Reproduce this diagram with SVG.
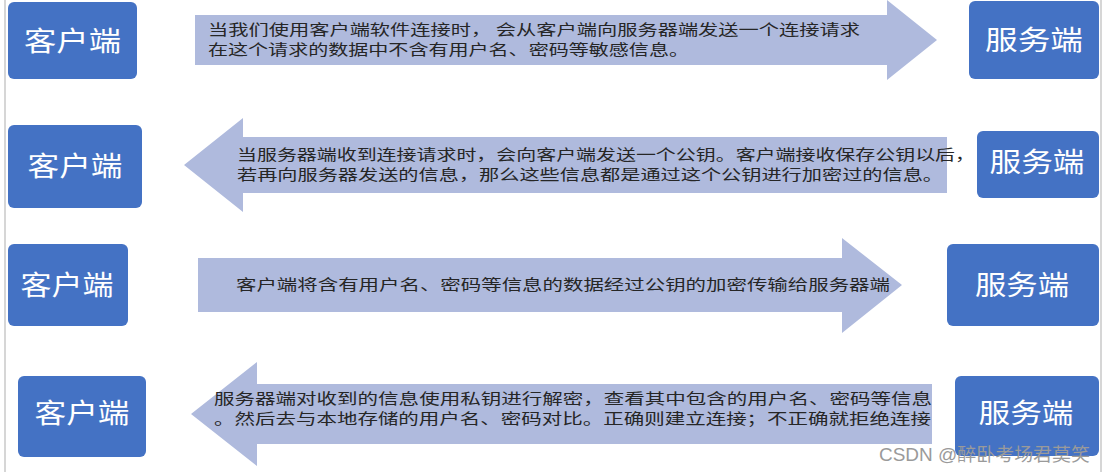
<svg xmlns="http://www.w3.org/2000/svg" width="1105" height="472" viewBox="0 0 1105 472">
<defs>
<style>
.box{fill:#4472C4;}
.lbl{fill:#ffffff;font-family:"Noto Sans CJK SC","Noto Sans",sans-serif;font-size:27px;text-anchor:middle;}
.arr{fill:#AFBADD;}
.msg{fill:#262626;font-family:"Noto Sans CJK SC","Noto Sans",sans-serif;font-size:15px;}
.wm{fill:#9a9a9a;font-family:"Liberation Sans","Noto Sans CJK SC",sans-serif;font-size:18px;}
.edge{stroke:#d6d6d6;stroke-width:2;}
</style>
</defs>
<rect x="0" y="0" width="1105" height="472" fill="#ffffff"/>
<line class="edge" x1="5" y1="0" x2="5" y2="472"/>
<line class="edge" x1="1101" y1="0" x2="1101" y2="472"/>

<g id="connectors">
  <g id="arrow1">
    <polygon class="arr" points="195,15 887,15 887,0 937,40 887,80 887,65 195,65"/>
    <text class="msg" x="208" y="35" textLength="652" lengthAdjust="spacingAndGlyphs">当我们使用客户端软件连接时， 会从客户端向服务器端发送一个连接请求</text>
    <text class="msg" x="208" y="55" textLength="481" lengthAdjust="spacingAndGlyphs">在这个请求的数据中不含有用户名、密码等敏感信息。</text>
  </g>
  <g id="arrow2">
    <polygon class="arr" points="947,137 243,137 243,118 184,165 243,212 243,193 947,193"/>
    <text class="msg" x="237" y="160" textLength="738" lengthAdjust="spacingAndGlyphs">当服务器端收到连接请求时，会向客户端发送一个公钥。客户端接收保存公钥以后，</text>
    <text class="msg" x="237" y="180" textLength="706" lengthAdjust="spacingAndGlyphs">若再向服务器发送的信息，那么这些信息都是通过这个公钥进行加密过的信息。</text>
  </g>
  <g id="arrow3">
    <polygon class="arr" points="198,258 842,258 842,238 902,285 842,333 842,312 198,312"/>
    <text class="msg" x="236" y="290" textLength="654" lengthAdjust="spacingAndGlyphs">客户端将含有用户名、密码等信息的数据经过公钥的加密传输给服务器端</text>
  </g>
  <g id="arrow4">
    <polygon class="arr" points="932,384 257,384 257,362 191,414 257,466 257,444 932,444"/>
    <text class="msg" x="214" y="404" textLength="718" lengthAdjust="spacingAndGlyphs">服务器端对收到的信息使用私钥进行解密，查看其中包含的用户名、密码等信息</text>
    <text class="msg" x="214" y="424" textLength="717" lengthAdjust="spacingAndGlyphs">。然后去与本地存储的用户名、密码对比。正确则建立连接；不正确就拒绝连接</text>
  </g>
</g>

<g id="client1"><rect class="box" x="8" y="2" width="129" height="77" rx="6"/><text class="lbl" x="72.5" y="51" textLength="97" lengthAdjust="spacingAndGlyphs">客户端</text></g>
<g id="server1"><rect class="box" x="969" y="1" width="130" height="78" rx="6"/><text class="lbl" x="1034" y="50" textLength="98" lengthAdjust="spacingAndGlyphs">服务端</text></g>

<g id="client2"><rect class="box" x="8" y="125" width="134" height="83" rx="6"/><text class="lbl" x="75" y="176" textLength="95" lengthAdjust="spacingAndGlyphs">客户端</text></g>
<g id="server2"><rect class="box" x="977" y="131" width="122" height="67" rx="6"/><text class="lbl" x="1037" y="172" textLength="95" lengthAdjust="spacingAndGlyphs">服务端</text></g>

<g id="client3"><rect class="box" x="8" y="244" width="120" height="82" rx="6"/><text class="lbl" x="67" y="295" textLength="93" lengthAdjust="spacingAndGlyphs">客户端</text></g>
<g id="server3"><rect class="box" x="947" y="244" width="152" height="82" rx="6"/><text class="lbl" x="1022" y="295" textLength="94" lengthAdjust="spacingAndGlyphs">服务端</text></g>

<g id="client4"><rect class="box" x="18" y="376" width="128" height="81" rx="6"/><text class="lbl" x="82" y="423" textLength="95" lengthAdjust="spacingAndGlyphs">客户端</text></g>
<g id="server4"><rect class="box" x="955" y="376" width="144" height="80" rx="6"/><text class="lbl" x="1026" y="423" textLength="95" lengthAdjust="spacingAndGlyphs">服务端</text></g>

<text class="wm" x="879" y="461" textLength="211" lengthAdjust="spacingAndGlyphs">CSDN @醉卧考场君莫笑</text>
</svg>
